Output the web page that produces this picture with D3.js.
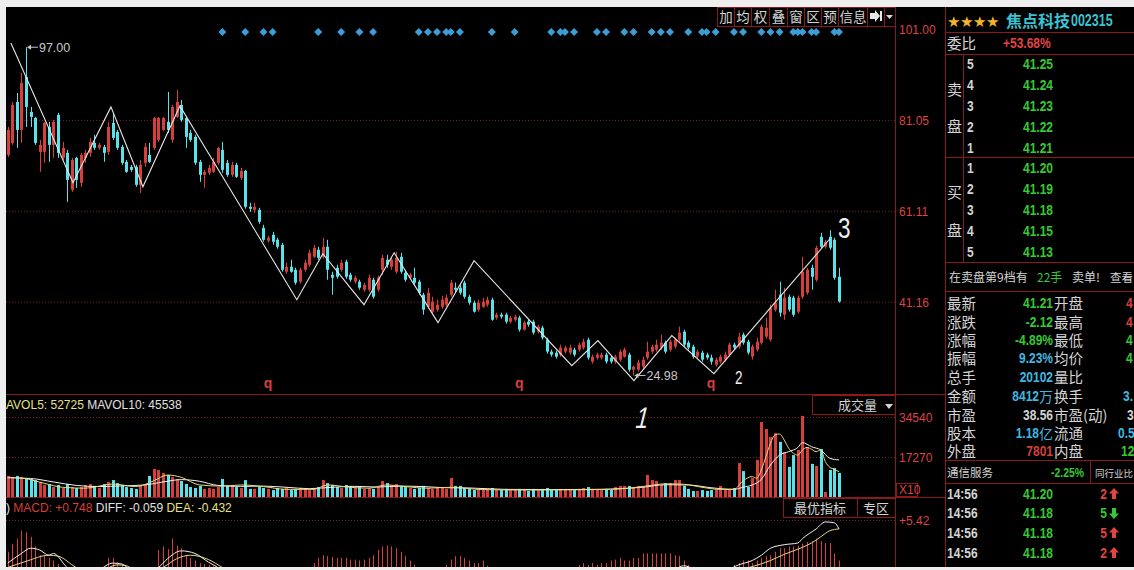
<!DOCTYPE html>
<html><head><meta charset="utf-8">
<script src="https://cdn.jsdelivr.net/npm/d3@7"></script>
<style>
html,body{margin:0;padding:0;background:#eeeeee;overflow:hidden}
svg{display:block}
text{font-family:"Liberation Sans",Arial,sans-serif}
.cjk{font-family:"Noto Sans CJK SC","Noto Sans",sans-serif}
.num{font-family:"Liberation Sans",Arial,sans-serif;font-weight:bold}
</style></head><body>
<svg id="c" width="1134" height="570"></svg>
<script>
// ---------- DATA ----------
const opens=[73.38,76.01,85.0,78.86,90.48,82.81,81.49,74.04,74.04,79.52,
75.57,82.15,72.72,73.82,65.71,72.72,67.25,72.72,73.82,76.01,
74.92,75.14,74.04,80.40,78.42,75.14,71.85,70.75,70.75,66.81,
71.63,73.38,74.92,76.67,78.86,80.62,76.67,81.71,84.34,81.49,
78.20,77.33,71.85,69.0,69.44,69.66,71.63,74.48,71.63,69.0,
71.19,68.34,69.88,61.99,61.33,61.33,57.38,54.53,55.85,54.75,
53.65,47.74,48.83,48.17,45.55,48.17,49.27,51.02,52.56,51.02,
53.22,47.08,48.61,48.17,49.93,47.08,45.55,45.55,43.79,43.79,
45.98,43.79,48.17,50.37,48.83,47.74,51.02,47.52,46.42,46.42,
45.55,42.69,40.06,38.97,39.41,40.06,40.50,42.69,44.23,44.23,
45.33,42.25,40.94,39.41,40.06,40.50,41.60,37.65,38.31,38.31,
36.78,37.20,37.65,35.02,36.78,36.78,34.59,35.46,32.83,30.20,
29.98,29.54,30.20,29.98,30.64,30.64,31.08,32.83,28.01,28.88,
28.88,29.54,28.88,28.01,28.45,29.10,29.54,26.25,26.25,26.91,
28.88,30.20,30.64,31.08,32.17,30.64,31.30,32.83,34.59,32.17,
31.30,29.10,29.98,29.54,28.88,27.35,28.01,28.45,29.54,31.74,
31.30,33.93,32.39,29.10,30.64,32.17,33.49,32.83,39.41,42.69,
38.31,42.25,42.04,38.97,42.25,43.13,48.61,45.98,55.41,53.22,
55.41,54.75,46.64];
const highs=[79.52,85.0,86.97,91.36,97.0,83.91,81.71,76.67,80.62,80.62,
81.06,82.59,76.23,74.48,72.72,72.94,73.82,74.48,77.11,77.77,
76.01,75.57,80.62,82.59,78.86,75.57,72.28,71.19,71.19,72.28,
76.01,76.01,81.71,81.71,81.71,87.19,84.34,87.63,85.44,81.71,
78.86,77.77,72.28,70.09,71.19,72.72,75.14,76.23,72.28,71.85,
71.63,70.53,70.09,62.86,62.86,61.77,58.04,55.63,56.50,55.19,
54.09,49.71,50.37,48.61,48.61,50.37,52.56,53.65,53.22,55.19,
54.75,47.74,49.27,50.37,50.37,47.52,46.86,45.98,45.33,47.08,
46.42,46.86,51.46,51.46,50.80,52.12,51.90,47.96,47.52,48.61,
45.98,43.13,44.23,42.25,41.60,42.47,42.69,45.98,45.33,44.89,
45.77,42.69,41.38,41.60,42.04,42.25,42.04,38.75,38.75,38.75,
38.09,38.31,38.09,37.00,37.20,37.20,36.12,35.90,33.27,30.64,
30.42,31.74,31.52,31.74,31.08,32.17,33.05,33.27,29.54,29.98,
29.98,29.98,29.32,29.54,30.64,31.08,29.98,27.13,28.45,29.10,
32.39,31.74,32.83,33.93,32.61,32.83,33.27,35.68,35.02,32.61,
31.74,30.64,30.42,29.98,29.54,28.88,29.54,30.20,32.17,32.17,
34.37,34.37,32.83,31.74,33.27,36.12,37.65,40.50,43.79,45.55,
44.23,42.69,42.47,42.47,51.02,48.61,49.27,53.44,56.28,54.75,
56.86,55.19,48.61];
const lows=[72.94,75.57,74.92,76.01,79.52,79.52,75.57,69.66,71.63,71.85,
72.72,72.72,72.28,63.08,65.27,66.15,66.37,71.63,72.94,74.48,
74.48,71.85,73.38,76.67,74.48,71.19,69.44,69.66,66.37,65.0,
70.75,71.63,74.48,76.23,78.64,78.20,76.01,81.49,80.62,74.92,
76.23,71.19,67.47,66.15,69.0,69.44,71.19,69.44,68.56,68.56,
68.34,67.90,61.55,60.89,60.67,58.26,54.31,54.09,53.65,52.78,
47.74,47.30,47.52,44.89,45.11,47.74,48.83,50.80,50.37,50.58,
45.98,42.69,46.20,47.74,46.20,45.55,45.11,43.79,43.35,43.35,
41.82,43.35,47.08,48.61,48.17,47.30,47.30,45.55,45.98,44.89,
42.69,38.31,39.62,38.53,38.97,39.62,40.06,42.25,43.13,42.69,
41.82,40.50,38.75,38.97,39.84,40.06,36.98,37.20,37.43,36.34,
36.34,36.78,34.59,34.81,35.68,33.93,34.15,32.83,29.76,29.10,
28.67,29.10,29.76,29.54,29.10,30.20,30.64,28.45,27.57,28.45,
28.45,27.57,27.57,27.57,28.01,28.88,25.81,24.98,25.81,26.47,
28.45,29.76,30.20,30.64,29.76,30.20,30.86,32.39,31.30,30.64,
28.67,28.67,28.01,28.45,27.35,26.91,27.57,28.01,29.10,30.64,
30.86,31.74,29.54,28.45,30.20,31.74,33.05,32.39,38.97,37.87,
37.20,38.97,37.87,38.53,41.82,42.69,43.79,45.55,52.78,52.78,
52.56,45.98,40.94];
const closes=[78.86,84.34,78.86,89.17,83.91,81.71,76.01,75.57,80.40,75.57,
80.62,73.82,74.92,67.90,72.28,67.90,73.38,73.82,76.23,74.92,
75.57,73.82,79.52,77.11,74.92,71.63,69.66,70.09,66.81,71.19,
75.14,71.85,81.49,81.49,81.49,78.86,83.91,85.0,81.06,77.33,
76.67,71.63,69.0,69.66,70.53,71.85,74.92,70.09,69.0,71.19,
68.56,69.88,61.99,61.55,61.99,58.70,54.75,55.19,54.31,53.22,
48.17,48.83,47.74,45.33,48.17,49.71,51.90,53.0,50.80,53.22,
48.17,46.42,46.64,49.71,46.64,45.98,46.42,44.23,44.89,46.42,
42.25,46.42,50.80,49.27,50.37,50.80,47.74,45.98,47.08,45.33,
43.13,39.41,43.13,41.16,40.50,41.60,42.04,45.33,43.79,43.13,
42.25,40.94,38.97,40.94,41.16,41.60,37.20,38.31,37.87,36.78,
37.65,37.87,35.02,36.56,36.12,34.37,35.68,33.27,30.20,29.54,
29.10,31.08,31.08,31.08,29.54,31.74,32.39,28.88,29.10,29.54,
29.54,28.01,28.01,29.10,30.20,30.64,26.25,26.91,27.79,28.45,
30.20,31.30,31.74,32.17,30.20,32.39,32.83,34.37,31.74,31.08,
29.10,30.20,28.45,28.88,28.01,28.45,29.10,29.54,31.74,31.08,
33.49,32.17,29.98,31.30,32.39,35.68,35.46,39.84,40.94,38.75,
42.04,39.41,38.31,42.04,47.74,48.17,46.64,53.0,53.22,54.31,
53.0,46.42,41.21];
const volumes=[9100,8600,9100,8600,8200,7800,7300,6500,5200,5600,
4300,5200,3900,5600,4300,3900,4300,5200,5600,4800,
3900,5600,6500,7300,6000,5200,4300,3900,3500,4800,
5600,9100,12100,11700,10400,9500,8600,7800,6900,5600,
4300,3900,4800,3500,3900,3500,4300,7800,4800,5200,
4300,3900,7300,3500,3500,4300,3900,3500,3000,3900,
3500,4300,3000,3500,3900,3500,3000,3900,4300,7300,
6000,5200,4300,3900,5200,4800,3900,4300,3500,3900,
3500,4300,6900,6000,5200,5600,4800,4300,3900,3500,
3900,4800,3900,3500,3900,4300,3500,8200,4800,4800,
3900,3500,3000,3500,3500,3500,3900,3000,3000,3500,
3000,3000,3500,3000,2600,3500,3000,3500,3900,3000,
3000,3500,3500,3000,3000,3500,3900,4300,3500,3500,
3000,3500,3000,4300,4800,4800,4800,4300,4800,4300,
9500,7300,6900,5200,6000,6000,7300,7300,4800,3500,
2600,2600,3000,2600,3000,3500,4800,3000,3500,3900,
14700,11200,4300,8200,16000,32400,29400,25900,27600,23800,
19400,13000,18100,20300,35000,21600,14300,13400,20700,2200,
11700,12500,10400];
const macdHist=[1.8,2.7,3.3,4.2,4.0,3.5,2.4,1.4,1.3,1.1,
0.8,0.4,-0.3,-0.8,-1.2,-1.4,-1.3,-1.0,-0.8,-0.6,
-0.4,-0.1,1.1,1.1,0.6,0.3,-0.3,-0.6,-0.9,-0.8,
-0.6,-0.3,-0.1,2.0,2.4,2.1,3.3,2.5,2.2,1.4,
1.1,0.8,0.5,0.4,0.3,0.2,-0.5,-1.0,-1.5,-2.0,
-2.4,-2.8,-3.2,-3.5,-3.6,-3.4,-3.0,-2.6,-2.2,-1.8,
-1.6,-1.4,-1.2,-1.0,-0.7,-0.4,-0.2,0.5,1.1,1.4,
1.3,1.2,1.1,1.1,1.1,0.9,0.9,0.8,0.9,1.1,
1.4,2.0,2.4,2.5,2.4,2.2,1.8,1.3,0.8,0.3,
-0.3,-0.6,-0.5,-0.3,-0.2,-0.1,0.3,0.9,1.3,1.3,
1.1,0.8,0.5,0.5,0.8,0.2,-0.3,-0.6,-0.8,-1.0,
-1.1,-1.2,-1.3,-1.3,-1.2,-1.1,-1.0,-1.0,-0.9,-0.7,
-0.5,-0.4,-0.2,-0.1,-0.05,0.3,0.5,0.3,0.5,0.3,
0.5,0.5,0.8,0.9,1.1,0.8,0.8,1.1,1.1,1.6,
1.6,1.6,1.6,1.6,1.6,1.6,1.4,1.3,0.8,0.3,
0.1,-0.2,-0.4,-0.5,-0.6,-0.5,-0.4,-0.2,-0.1,0.3,
0.5,0.8,0.8,0.5,0.8,1.1,1.3,1.4,1.8,2.2,
2.2,2.4,2.4,2.5,2.7,2.9,3.0,3.3,3.0,2.8,
2.8,1.6,0.8];
// [candle number, value]
const diffPts=[[1,0.5],[4,1.6],[6,2.2],[8,2.0],[10,1.4],[11,1.6],[14,0.0],[18,-1.2],[21,-0.3],[24,0.5],[26,0.4],[28,-0.3],[31,-0.6],[34,0.0],[36,1.0],[39,1.9],[42,1.6],[45,0.6],[47,0.0],[55,-4],[62,-5],[70,-3],[80,-2.5],[90,-1.5],[100,-1.2],[110,-2.5],[120,-3],[130,-1.5],[140,-0.6],[147,-0.2],[149,0.2],[151,-0.1],[156,-0.8],[161,0.3],[164,0.8],[166,1.4],[168,2.2],[171,2.6],[174,2.8],[175,3.3],[178,4.4],[180,5.2],[182,5.1],[183,4.4]];
const deaPts=[[1,0.0],[5,0.7],[10,1.4],[12,1.3],[16,0.0],[20,-0.8],[22,-0.3],[25,0.3],[27,0.2],[29,-0.3],[33,-0.4],[35,0.0],[38,1.0],[41,1.4],[45,0.9],[48,0.0],[55,-2.5],[62,-4],[70,-4],[80,-3.5],[90,-2.5],[100,-2],[110,-2],[120,-2.5],[130,-2],[140,-1],[150,-0.3],[156,-0.5],[164,0.1],[168,0.8],[171,1.5],[175,2.3],[177,2.8],[179,3.5],[181,4.2],[183,4.4]];
const mavol5Pts=[[1,8500],[5,7900],[9,5900],[13,4200],[18,3800],[24,5600],[29,4500],[33,7000],[36,9500],[39,8500],[43,5200],[48,4700],[52,5200],[57,4500],[62,3300],[68,3300],[71,5200],[76,4200],[80,3800],[84,5200],[88,4500],[93,3800],[98,4200],[105,3200],[115,3000],[125,3100],[133,3300],[137,3800],[141,4800],[145,5700],[149,5500],[153,4200],[157,3300],[160,3300],[162,7000],[164,8800],[165,8100],[166,11700],[167,17400],[168,23200],[169,26800],[170,27200],[171,24600],[172,21000],[173,18900],[174,18100],[175,20300],[176,21400],[177,20600],[178,19600],[179,20300],[180,15300],[181,12800],[182,12000],[183,10900]];
const mavol10Pts=[[1,8300],[6,8000],[11,6500],[16,5000],[21,4500],[26,4800],[31,5200],[35,6500],[39,7500],[43,6800],[47,5000],[52,4600],[57,4700],[62,4200],[67,3600],[72,4200],[77,4600],[82,4300],[87,4700],[92,4500],[97,4000],[102,3900],[110,3300],[120,3200],[130,3300],[136,3700],[140,4200],[145,5300],[150,5200],[155,4000],[160,3300],[162,4200],[164,5200],[166,7600],[168,13800],[170,18100],[172,19600],[174,21400],[175,23500],[177,21700],[179,20300],[181,16700],[183,16000]];
const zigzagPts=[[1.7,97.93],[15.3,67.25],[23.6,83.91],[30.6,66.37],[38.7,84.12],[64.3,41.6],[70,51.68],[79,40.5],[85.6,51.9],[95.2,36.56],[103.1,50.15],[124.5,27.13],[130.2,32.61],[138.1,23.84],[146.4,33.71],[155.6,25.38],[181,54.97]];
const signalIdx=[48,53,57,59,69,74,78,81,91,93,95,97,98,100,107,112,120,122,123,125,130,132,136,138,142,144,146,150,153,154,156,160,162,166,168,170,173,174,175,177,178,182,183];
const qIdx=[58,113,155];
const priceTicks=[101.00,81.05,61.11,41.16];
const volTicks=[34540,17270];
const macdTicks=[5.42];

// ---------- SETUP ----------
const svg=d3.select('#c');
const W=1134,H=570;
const RED='#d63f3c',CYAN='#58e2ea',BORDER='#8a1a1a',GRID='#7a1e1e',AXIS='#dd4343',
      GREEN='#36c836',TXT='#d4d4d4',BLUE='#3fb8e0',YEL='#e6e08a';
svg.append('rect').attr('width',W).attr('height',H).attr('fill','#eeeeee');
svg.append('rect').attr('x',6).attr('y',7).attr('width',W-6).attr('height',560).attr('fill','#000');

const N=closes.length;
const x=d3.scaleLinear().domain([1,N]).range([7.7,839]);
const yP=d3.scaleLinear().domain([41.16,101]).range([301.7,29]);
const yV=d3.scaleLinear().domain([0,34540]).range([497,417]);
const yM=d3.scaleLinear().domain([0,5.42]).range([567.5,520]);

const defs=svg.append('defs');
function clip(id,x0,y0,w,h){defs.append('clipPath').attr('id',id).append('rect').attr('x',x0).attr('y',y0).attr('width',w).attr('height',h);}
clip('cm',6,7,889,387); clip('cv',6,395,889,102); clip('cd',6,498,889,69);

// ---------- GRID + AXES ----------
function axisRight(scale,ticks,fmt){
  const g=svg.append('g').attr('transform','translate(895,0)')
    .call(d3.axisRight(scale).tickValues(ticks).tickSize(-889).tickPadding(4).tickFormat(fmt));
  g.select('.domain').remove();
  g.selectAll('.tick line').attr('stroke',GRID).attr('stroke-dasharray','1,2');
  g.selectAll('.tick text').attr('fill',AXIS).attr('font-size',12).attr('dy','0.4em')
    .attr('font-family','"Liberation Sans",Arial,sans-serif');
  return g;
}
const ga=axisRight(yP,priceTicks,d3.format('.2f'));
ga.selectAll('.tick').filter(d=>d===101).select('line').remove();
axisRight(yV,volTicks,d3.format('d'));
axisRight(yM,macdTicks,d=>'+'+d.toFixed(2));

// panel borders
const lines=[[895.5,7,895.5,567],[945.5,7,945.5,567],[6,394.5,945,394.5],[6,497.5,945,497.5]];
svg.selectAll('line.border').data(lines).join('line').attr('class','border')
 .attr('x1',d=>d[0]).attr('y1',d=>d[1]).attr('x2',d=>d[2]).attr('y2',d=>d[3]).attr('stroke',BORDER);

// ---------- MAIN CANDLES ----------
const idx=d3.range(N);
const col=i=>closes[i]>=opens[i]?RED:CYAN;
const gm=svg.append('g').attr('clip-path','url(#cm)');
gm.selectAll('line.wick').data(idx).join('line').attr('class','wick')
 .attr('x1',i=>Math.round(x(i+1))+0.5).attr('x2',i=>Math.round(x(i+1))+0.5)
 .attr('y1',i=>yP(highs[i])).attr('y2',i=>yP(lows[i])).attr('stroke',col);
gm.selectAll('rect.body').data(idx).join('rect').attr('class','body')
 .attr('x',i=>Math.round(x(i+1))-1).attr('width',3)
 .attr('y',i=>yP(Math.max(opens[i],closes[i])))
 .attr('height',i=>Math.max(1,Math.abs(yP(opens[i])-yP(closes[i])))).attr('fill',col);
gm.append('path').datum(zigzagPts).attr('fill','none').attr('stroke','#e6e6e6').attr('stroke-width',1.1)
 .attr('d',d3.line().x(d=>x(d[0])).y(d=>yP(d[1])));
gm.selectAll('rect.sig').data(signalIdx).join('rect').attr('class','sig')
 .attr('width',5.6).attr('height',5.6).attr('x',-2.8).attr('y',-2.8)
 .attr('transform',k=>`translate(${x(k)},32) rotate(45)`).attr('fill','#3b9fd6');
gm.selectAll('text.q').data(qIdx).join('text').attr('class','q')
 .attr('x',k=>x(k)).attr('y',388).attr('text-anchor','middle').attr('fill',RED)
 .attr('font-size',14).attr('font-weight','bold').text('q');
const hi=d3.maxIndex(highs), lo=d3.minIndex(lows);
function priceTag(i,val){
  const px=x(i+1)+1, py=yP(val);
  gm.append('path').attr('d',`M${px},${py}l4,-2.5v5z`).attr('fill','#c8c8c8');
  gm.append('line').attr('x1',px+3).attr('x2',px+11).attr('y1',py).attr('y2',py).attr('stroke','#c8c8c8');
  gm.append('text').attr('x',px+12).attr('y',py+4.5).attr('fill','#c8c8c8').attr('font-size',12.5).text(d3.format('.2f')(val));
}
priceTag(hi,highs[hi]); priceTag(lo,lows[lo]);

// hand-written marks
function hand(t,x0,y0,fs,sk){svg.append('text').attr('fill','#f0f0f0')
  .attr('font-family','"DejaVu Sans",sans-serif').attr('font-weight',200).attr('font-size',fs)
  .attr('transform',`translate(${x0},${y0}) skewX(${sk}) scale(0.75,1)`).text(t);}
hand('1',634,428,30,-14);
hand('2',735,384,18,0);
hand('3',838,238,30,0);

// ---------- VOLUME ----------
const gv=svg.append('g').attr('clip-path','url(#cv)');
gv.selectAll('rect').data(idx).join('rect')
 .attr('x',i=>Math.round(x(i+1))-1).attr('width',3)
 .attr('y',i=>yV(volumes[i])).attr('height',i=>yV(0)-yV(volumes[i])).attr('fill',col);
const lv=d3.line().x(d=>x(d[0])).y(d=>yV(d[1])).curve(d3.curveMonotoneX);
gv.append('path').datum(mavol10Pts).attr('fill','none').attr('stroke','#f2f2f2').attr('stroke-width',1).attr('d',lv);
gv.append('path').datum(mavol5Pts).attr('fill','none').attr('stroke','#e8d87a').attr('stroke-width',1).attr('d',lv);

// ---------- MACD ----------
const gd=svg.append('g').attr('clip-path','url(#cd)');
gd.selectAll('line').data(idx).join('line')
 .attr('x1',i=>Math.round(x(i+1))+0.5).attr('x2',i=>Math.round(x(i+1))+0.5)
 .attr('y1',yM(0)).attr('y2',i=>yM(macdHist[i])).attr('stroke',i=>macdHist[i]>=0?RED:CYAN);
const lm=d3.line().x(d=>x(d[0])).y(d=>yM(d[1])).curve(d3.curveMonotoneX);
gd.append('path').datum(deaPts).attr('fill','none').attr('stroke','#e8d87a').attr('d',lm);
gd.append('path').datum(diffPts).attr('fill','none').attr('stroke','#f2f2f2').attr('d',lm);

// ---------- HEADERS / BUTTONS ----------
function T(g,xx,yy,s,o){o=o||{};const t=g.append('text').attr('x',xx).attr('y',yy).text(s)
  .attr('fill',o.fill||TXT).attr('font-size',o.fs||12);
  if(o.cls)t.attr('class',o.cls); if(o.anchor)t.attr('text-anchor',o.anchor); if(o.fw)t.attr('font-weight',o.fw);return t;}
// condensed bold numbers
function NT(g,xx,yy,s,fill,fs,anchor,sx){return g.append('text').attr('class','num')
  .attr('transform',`translate(${xx},${yy}) scale(${sx||0.8},1)`).attr('text-anchor',anchor||'start')
  .attr('fill',fill).attr('font-size',fs).text(s);}
const hv=svg.append('text').attr('x',6).attr('y',409).attr('font-size',12);
hv.append('tspan').attr('fill',YEL).text('AVOL5: 52725 ');
hv.append('tspan').attr('fill','#e0e0e0').text('MAVOL10: 45538');
const hm=svg.append('text').attr('x',6).attr('y',512).attr('font-size',12);
hm.append('tspan').attr('fill','#e0e0e0').text(') ');
hm.append('tspan').attr('fill',RED).text('MACD: +0.748 ');
hm.append('tspan').attr('fill','#e0e0e0').text('DIFF: -0.059 ');
hm.append('tspan').attr('fill',YEL).text('DEA: -0.432');

svg.append('rect').attr('x',812.5).attr('y',395.5).attr('width',83).attr('height',19).attr('fill','#000').attr('stroke',BORDER);
T(svg,838,410,'成交量',{fs:13,cls:'cjk'});
svg.append('path').attr('d','M885,404h8l-4,5z').attr('fill',TXT);
svg.append('rect').attr('x',896.5).attr('y',483.5).attr('width',21).attr('height',13).attr('fill','none').attr('stroke',BORDER);
T(svg,899,494,'X10',{fill:AXIS,fs:12});
svg.append('rect').attr('x',783.5).attr('y',498.5).attr('width',74).attr('height',19).attr('fill','#000').attr('stroke',BORDER);
svg.append('rect').attr('x',857.5).attr('y',498.5).attr('width',38).attr('height',19).attr('fill','#000').attr('stroke',BORDER);
T(svg,820,513,'最优指标',{fs:13,cls:'cjk',anchor:'middle'});
T(svg,876,513,'专区',{fs:13,cls:'cjk',anchor:'middle'});

const tb=[['加',717,734],['均',734,751],['权',751,769],['叠',769,787],['窗',787,804],['区',804,821],['预',821,838],['信息',838,867],['',867,884],['',884,895]];
const gtb=svg.append('g');
gtb.selectAll('rect').data(tb).join('rect').attr('x',d=>d[1]+0.5).attr('y',7.5).attr('width',d=>d[2]-d[1]).attr('height',19)
 .attr('fill','#000').attr('stroke',BORDER);
gtb.selectAll('text').data(tb).join('text').attr('class','cjk').attr('x',d=>(d[1]+d[2])/2+0.5).attr('y',22)
 .attr('text-anchor','middle').attr('font-size',13.5).attr('fill',TXT).text(d=>d[0]);
svg.append('path').attr('d','M870,13h5v-3l5,6l-5,6v-3h-5z').attr('fill','#e8e8e8');
svg.append('rect').attr('x',880).attr('y',11).attr('width',2).attr('height',10).attr('fill','#e8e8e8');
svg.append('path').attr('d','M886,15h7l-3.5,4z').attr('fill',TXT);

// ---------- RIGHT PANEL ----------
const rp=svg.append('g');
const hl=[32.5,54.5,157.5,262.5,291.5,460.5,483.5];
rp.selectAll('line.h').data(hl).join('line').attr('x1',946).attr('x2',1134).attr('y1',d=>d).attr('y2',d=>d).attr('stroke',BORDER);
rp.append('line').attr('x1',963.5).attr('x2',963.5).attr('y1',55).attr('y2',262).attr('stroke',BORDER);
rp.append('line').attr('x1',1090.5).attr('x2',1090.5).attr('y1',461).attr('y2',483).attr('stroke',BORDER);
T(rp,947,27,'★★★★',{fill:'#f2b428',fs:15});
T(rp,1006,27,'焦点科技',{fill:'#3cc2d2',fs:16,cls:'cjk',fw:'bold'});
NT(rp,1071,26,'002315','#3cc2d2',16,'start',0.78);
T(rp,947,49,'委比',{fs:14.5,cls:'cjk'});
NT(rp,1003,48,'+53.68%','#e04444',15);
const sellN=['5','4','3','2','1'], sellP=['41.25','41.24','41.23','41.22','41.21'];
const buyN=['1','2','3','4','5'], buyP=['41.20','41.19','41.18','41.15','41.13'];
const sellY=[64,85,106,127,148], buyY=[168,189,210,231,252];
sellN.forEach((n,i)=>{NT(rp,967,sellY[i]+5,n,TXT,15);NT(rp,1053,sellY[i]+5,sellP[i],GREEN,15,'end');});
buyN.forEach((n,i)=>{NT(rp,967,buyY[i]+5,n,TXT,15);NT(rp,1053,buyY[i]+5,buyP[i],GREEN,15,'end');});
T(rp,947,95,'卖',{fs:15,cls:'cjk'});T(rp,947,132,'盘',{fs:15,cls:'cjk'});
T(rp,947,198,'买',{fs:15,cls:'cjk'});T(rp,947,236,'盘',{fs:15,cls:'cjk'});
T(rp,949,282,'在卖盘第9档有',{fs:12,cls:'cjk'});
T(rp,1037,282,'22手',{fill:GREEN,fs:12,cls:'cjk'});
T(rp,1072,282,'卖单!',{fs:12,cls:'cjk'});
T(rp,1110,282,'查看',{fs:11.5,cls:'cjk'});
const stL=['最新','涨跌','涨幅','振幅','总手','金额','市盈','股本','外盘'];
const stV=[['41.21','',GREEN],['-2.12','',GREEN],['-4.89%','',GREEN],['9.23%','',BLUE],['20102','',BLUE],['8412','万',BLUE],['38.56','',TXT],['1.18','亿',BLUE],['7801','',RED]];
const stR=['开盘','最高','最低','均价','量比','换手','市盈(动)','流通','内盘'];
const stE=[['4',RED,1126],['4',RED,1126],['4',GREEN,1126],['4',GREEN,1126],['',TXT,1126],['3.',BLUE,1123],['3',TXT,1127],['0.5',BLUE,1118],['12',GREEN,1121]];
const stY=[303,322,340,358,377,396,415,433,451];
stL.forEach((l,i)=>{
  T(rp,947,stY[i]+6,l,{fs:14.5,cls:'cjk'});
  const [v,u,c]=stV[i];
  if(u){
    NT(rp,1039,stY[i]+5,v,c,15,'end');
    T(rp,1039,stY[i]+6,u,{fill:c,fs:14,cls:'cjk'});
  } else NT(rp,1053,stY[i]+5,v,c,15,'end');
  T(rp,1054,stY[i]+6,stR[i],{fs:14.5,cls:'cjk'});
  if(stE[i][0])NT(rp,stE[i][2],stY[i]+5,stE[i][0],stE[i][1],15);
});
T(rp,947,477,'通信服务',{fs:11.5,cls:'cjk'});
NT(rp,1084,477,'-2.25%',GREEN,13,'end');
T(rp,1095,477,'同行业比',{fs:9.5,cls:'cjk'});
const tkY=[494,513,533,553], tkP=['41.20','41.18','41.18','41.18'], tkV=[['2',1],['5',0],['5',1],['2',1]];
tkY.forEach((yy,i)=>{
  NT(rp,947,yy+5,'14:56',TXT,15);
  NT(rp,1053,yy+5,tkP[i],GREEN,15,'end');
  const up=tkV[i][1]===1, c=up?'#e04444':GREEN;
  NT(rp,1107,yy+5,tkV[i][0],c,15,'end');
  const cx=1114;
  rp.append('path').attr('d',up?`M${cx},${yy-6}l5,5.5h-3v5.5h-4v-5.5h-3z`:`M${cx},${yy+6}l5,-5.5h-3v-5.5h-4v5.5h-3z`).attr('fill',c);
});
</script>
</body></html>
